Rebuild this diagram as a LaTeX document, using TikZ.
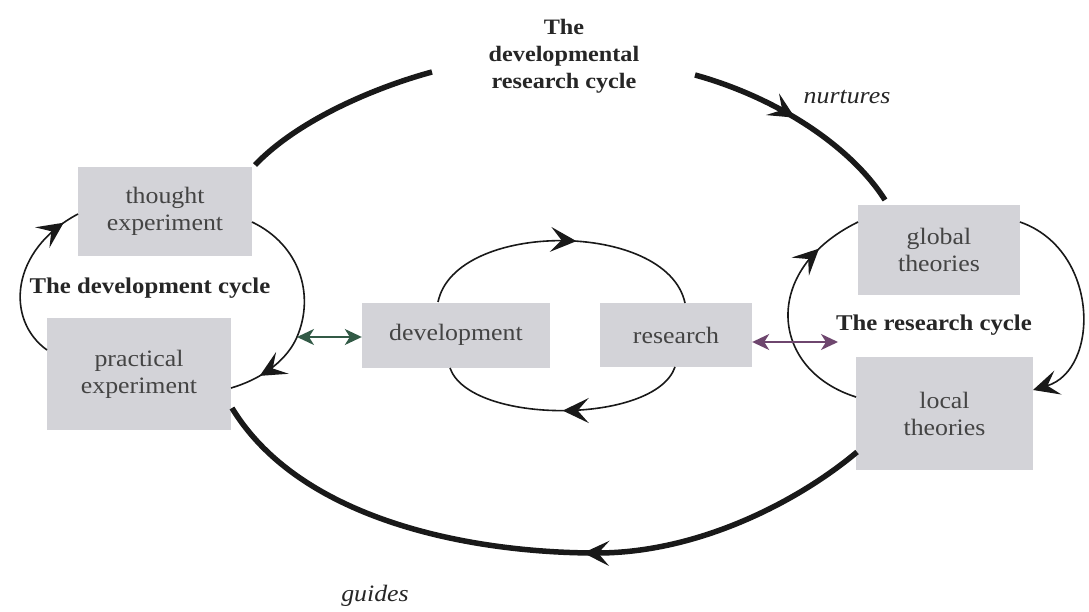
\documentclass[tikz,border=0pt]{standalone}
\usepackage{fontspec}
\setmainfont{Liberation Serif}[FakeStretch=1.1]
\usetikzlibrary{arrows.meta,decorations.markings}
\definecolor{boxgray}{RGB}{211,211,216}
\definecolor{boxtext}{RGB}{68,68,68}
\definecolor{linec}{RGB}{25,25,25}
\definecolor{labtext}{RGB}{38,38,38}
\definecolor{tealline}{RGB}{50,90,70}
\definecolor{purpline}{RGB}{110,70,110}
\begin{document}
\begin{tikzpicture}[x=1pt,y=-1pt,
  barb/.tip={Stealth[length=26pt,width=25pt,inset=11pt]},
  sbarb/.tip={Stealth[length=17pt,width=16pt,inset=5pt]},
  box/.style={fill=boxgray,draw=none,inner sep=0pt,align=center,text=boxtext,
    font=\fontsize{23.5}{27}\selectfont},
  bigarc/.style={line width=5.5pt,draw=linec},
  cyc/.style={line width=1.6pt,draw=linec},
  marr/.style={postaction={decorate,decoration={markings,mark=at position #1 with {\arrow{barb}}}}},
  dbl/.style={line width=1.6pt,{sbarb}-{sbarb}},
  blab/.style={font=\bfseries\fontsize{22.5}{26}\selectfont,text=labtext,inner sep=0pt},
  ilab/.style={font=\itshape\fontsize{23.5}{26}\selectfont,text=labtext,inner sep=0pt}]
\fill[white] (0,0) rectangle (1089,612);
\path[use as bounding box] (0,0) rectangle (1089,612);

% boxes
\node[box,minimum width=174pt,minimum height=89pt] (thought) at (165,211.5) {thought\\experiment};
\node[box,minimum width=184pt,minimum height=112pt] (practical) at (139,374) {practical\\experiment};
\node[box,minimum width=188pt,minimum height=65pt] (development) at (456,335) {development};
\node[box,minimum width=152pt,minimum height=64pt] (research) at (676,335) {research};
\node[box,minimum width=162pt,minimum height=90pt] (global) at (939,250) {global\\theories};
\node[box,minimum width=177pt,minimum height=113pt] (local) at (944.5,413.5) {local\\theories};

% labels
\node[font=\bfseries\fontsize{22}{27}\selectfont,text=labtext,align=center,inner sep=0pt,anchor=north] (title) at (564,19) {The\\developmental\\research cycle};
\node[ilab] (nurtures) at (847,97) {nurtures};
\node[ilab] (guides) at (375,596) {guides};
\node[blab] (devcycle) at (150,288) {The development cycle};
\node[blab] (rescycle) at (934,325) {The research cycle};

% big developmental research cycle
\coordinate (g1) at (255,165);
\coordinate (g2) at (432,72);
\coordinate (g3) at (695,75);
\coordinate (g4) at (885,200);
\coordinate (g5) at (857,452);
\coordinate (g6) at (232,408);
\draw[bigarc] (g1) .. controls (300,118) and (380,86) .. (g2);
\draw[bigarc,marr=0.47] (g3) .. controls (775,97) and (850,145) .. (g4);
\draw[bigarc,marr=0.43] (g5) .. controls (800,500) and (700,553) .. (597,553)
   .. controls (470,553) and (300,520) .. (g6);

% development cycle
\coordinate (d1) at (252,222);
\coordinate (dj) at (297,337);
\coordinate (d3) at (231,388);
\coordinate (d4) at (47,350);
\coordinate (d5) at (78,214);
\draw[cyc,marr=0.86] (d1) .. controls (300,245) and (315,295) .. (dj)
   .. controls (288,358) and (265,378) .. (d3);
\draw[cyc,marr=0.9] (d4) .. controls (5,320) and (10,250) .. (d5);

% middle cycle
\coordinate (m1) at (438,302);
\coordinate (m2) at (685,303);
\coordinate (m3) at (675,367);
\coordinate (m4) at (450,368);
\draw[cyc,marr=0.55] (m1) .. controls (455,220) and (667,220) .. (m2);
\draw[cyc,marr=0.5] (m3) .. controls (655,425) and (470,425) .. (m4);

% research cycle
\coordinate (r1) at (856,397);
\coordinate (r2) at (858,222);
\coordinate (r3) at (1020,222);
\coordinate (r4) at (1033,390);
\draw[cyc,marr=0.8] (r1) .. controls (770,370) and (760,270) .. (r2);
\draw[cyc,-{barb}] (r3) .. controls (1100,250) and (1100,370) .. (r4);

% double arrows
\draw[dbl,draw=tealline] (dj) -- (dj -| development.west);
\coordinate (rj) at (838,342);
\draw[dbl,draw=purpline] (research.east |- rj) -- (rj);
\end{tikzpicture}
\end{document}
